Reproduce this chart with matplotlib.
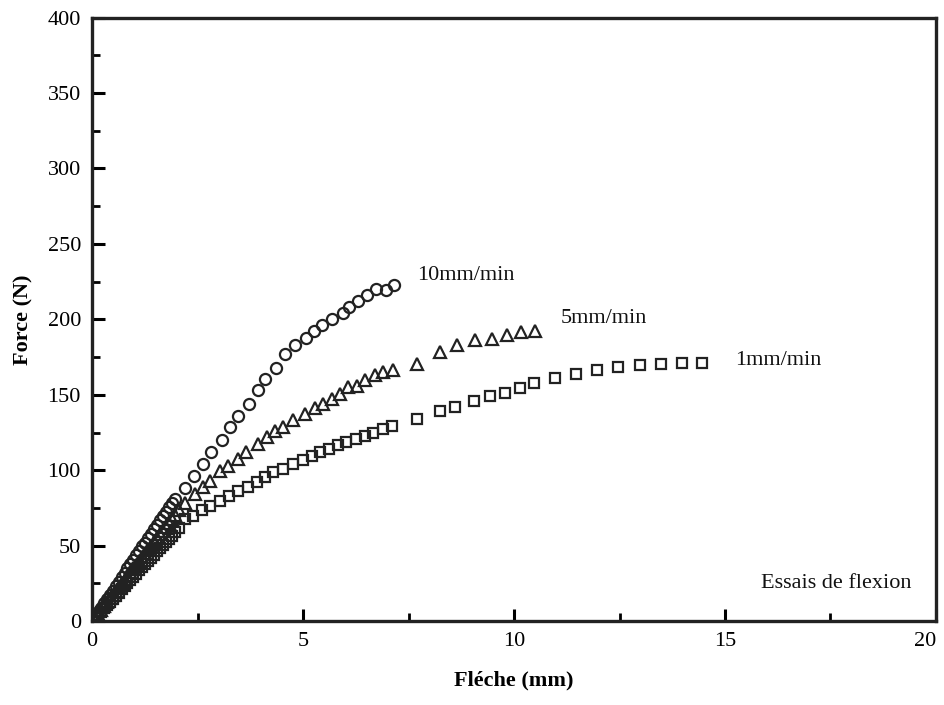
import numpy as np
import matplotlib.pyplot as plt

# === DATA ===
# 10mm/min - circles
x_10 = [0.00, 0.07, 0.14, 0.21, 0.28, 0.35, 0.42, 0.49, 0.56, 0.63, 0.70, 0.77,
        0.84, 0.91, 0.98, 1.05, 1.12, 1.19, 1.26, 1.33, 1.40, 1.47, 1.54, 1.61,
        1.68, 1.75, 1.82, 1.89, 1.97,
        2.20, 2.42, 2.62, 2.81, 3.07, 3.27, 3.47, 3.73, 3.94, 4.10, 4.36, 4.57,
        4.81, 5.06, 5.26, 5.45, 5.68, 5.94, 6.08, 6.31, 6.52, 6.73, 6.96, 7.16]
y_10 = [0.0, 3.0, 6.0, 9.0, 12.0, 14.5, 17.5, 20.0, 23.0, 26.0, 29.0, 32.0,
        35.0, 38.0, 40.5, 43.5, 46.5, 49.5, 52.0, 55.0, 58.0, 61.0, 64.0, 67.0,
        69.5, 72.5, 75.5, 78.5, 81.0,
        88.0, 96.0, 104.0, 112.0, 120.0, 128.5, 136.0, 144.0, 153.0, 160.5, 168.0, 177.0,
        183.0, 187.6, 192.0, 196.3, 200.2, 204.5, 208.0, 212.5, 216.0, 219.8, 219.5, 222.6]

# 5mm/min - triangles
x_5 = [0.00, 0.07, 0.14, 0.21, 0.28, 0.35, 0.42, 0.49, 0.56, 0.63, 0.70, 0.77,
       0.84, 0.91, 0.98, 1.05, 1.12, 1.19, 1.26, 1.33, 1.40, 1.47, 1.54, 1.61,
       1.68, 1.75, 1.82, 1.89, 1.96, 2.05, 2.20,
       2.44, 2.64, 2.80, 3.03, 3.23, 3.47, 3.66, 3.94, 4.14, 4.34, 4.53, 4.77,
       5.05, 5.28, 5.48, 5.68, 5.88, 6.07, 6.27, 6.47, 6.71, 6.90, 7.14,
       7.69, 8.25, 8.64, 9.08, 9.47, 9.83, 10.17, 10.50]
y_5 = [0.0, 2.5, 5.0, 7.5, 10.0, 12.5, 15.0, 17.5, 20.0, 22.5, 25.0, 27.5,
       30.0, 32.5, 35.0, 37.5, 40.0, 42.5, 45.0, 47.5, 50.0, 52.5, 55.0, 57.5,
       60.0, 62.5, 65.0, 67.5, 70.0, 73.5, 78.5,
       84.0, 88.6, 93.0, 99.7, 103.0, 107.5, 112.0, 117.5, 122.0, 126.0, 128.5, 133.0,
       137.0, 141.5, 144.0, 147.0, 150.6, 155.0, 156.0, 159.5, 162.8, 165.0, 166.5,
       170.6, 178.5, 182.7, 186.0, 187.0, 189.4, 191.6, 192.3]

# 1mm/min - squares
x_1 = [0.00, 0.07, 0.14, 0.21, 0.28, 0.35, 0.42, 0.49, 0.56, 0.63, 0.70, 0.77,
       0.84, 0.91, 0.98, 1.05, 1.12, 1.19, 1.26, 1.33, 1.40, 1.47, 1.54, 1.61,
       1.68, 1.75, 1.82, 1.89, 1.96, 2.05,
       2.20, 2.40, 2.60, 2.80, 3.03, 3.25, 3.47, 3.70, 3.90, 4.10, 4.30, 4.53,
       4.77, 4.99, 5.21, 5.40, 5.62, 5.84, 6.03, 6.26, 6.47, 6.67, 6.90, 7.12,
       7.69, 8.25, 8.60, 9.06, 9.43, 9.79, 10.14, 10.48, 10.96, 11.47, 11.97,
       12.47, 12.99, 13.48, 13.97, 14.46]
y_1 = [0.0, 2.1, 4.2, 6.3, 8.4, 10.5, 12.6, 14.7, 16.8, 18.9, 21.0, 23.1,
       25.2, 27.3, 29.4, 31.5, 33.6, 35.7, 37.8, 39.9, 42.0, 44.1, 46.2, 48.3,
       50.4, 52.5, 54.6, 56.7, 58.8, 62.0,
       67.6, 69.8, 73.5, 76.4, 79.7, 83.0, 86.4, 89.0, 92.4, 95.2, 98.5, 100.8,
       104.0, 106.8, 109.6, 111.8, 114.0, 117.0, 118.5, 120.7, 123.0, 125.0, 127.4, 129.6,
       134.0, 139.5, 141.7, 146.0, 149.5, 151.0, 154.6, 157.5, 161.0, 163.5, 166.5,
       168.2, 169.7, 170.6, 171.2, 171.3]

series_labels = ['10mm/min', '5mm/min', '1mm/min']
label_pos = [(7.7, 229), (11.1, 200.5), (15.25, 172.5)]

# === STYLE ===
plt.rcParams['font.family'] = ['Liberation Serif', 'DejaVu Serif']
plt.rcParams['font.size'] = 16

fig = plt.figure(figsize=(9.44, 7.05), dpi=100)
ax = fig.add_axes([0.0975, 0.119, 0.894, 0.856])

mk = dict(linestyle='none', markerfacecolor='none', markeredgecolor='#222222',
          markeredgewidth=1.6)
ax.plot(x_10, y_10, marker='o', markersize=8, **mk)
ax.plot(x_5, y_5, marker='^', markersize=8.5, **mk)
ax.plot(x_1, y_1, marker='s', markersize=7, **mk)

for lab, (lx, ly) in zip(series_labels, label_pos):
    ax.text(lx, ly, lab, fontsize=16, ha='left', va='center', color='#111111')

ax.text(15.85, 25, 'Essais de flexion', fontsize=16, ha='left', va='center',
        color='#111111')

ax.set_xlim(0, 20)
ax.set_ylim(0, 400)
ax.set_xticks([0, 5, 10, 15, 20])
ax.set_yticks(np.arange(0, 401, 50))
ax.set_xticks([2.5, 7.5, 12.5, 17.5], minor=True)
ax.set_yticks(np.arange(25, 400, 50), minor=True)

ax.tick_params(which='major', direction='in', length=9, width=2.2, pad=8,
               labelsize=16, top=False, right=False)
ax.tick_params(which='minor', direction='in', length=6, width=2.0,
               top=False, right=False)
for sp in ax.spines.values():
    sp.set_linewidth(2.4)
    sp.set_color('#222222')

# keep the last x tick label inside the canvas
fig.canvas.draw()
ax.get_xticklabels()[-1].set_ha('right')

ax.set_xlabel('Fléche (mm)', fontsize=16, fontweight='bold', labelpad=14)
ax.set_ylabel('Force (N)', fontsize=16, fontweight='bold', labelpad=10)

plt.savefig('out.png', dpi=100)
